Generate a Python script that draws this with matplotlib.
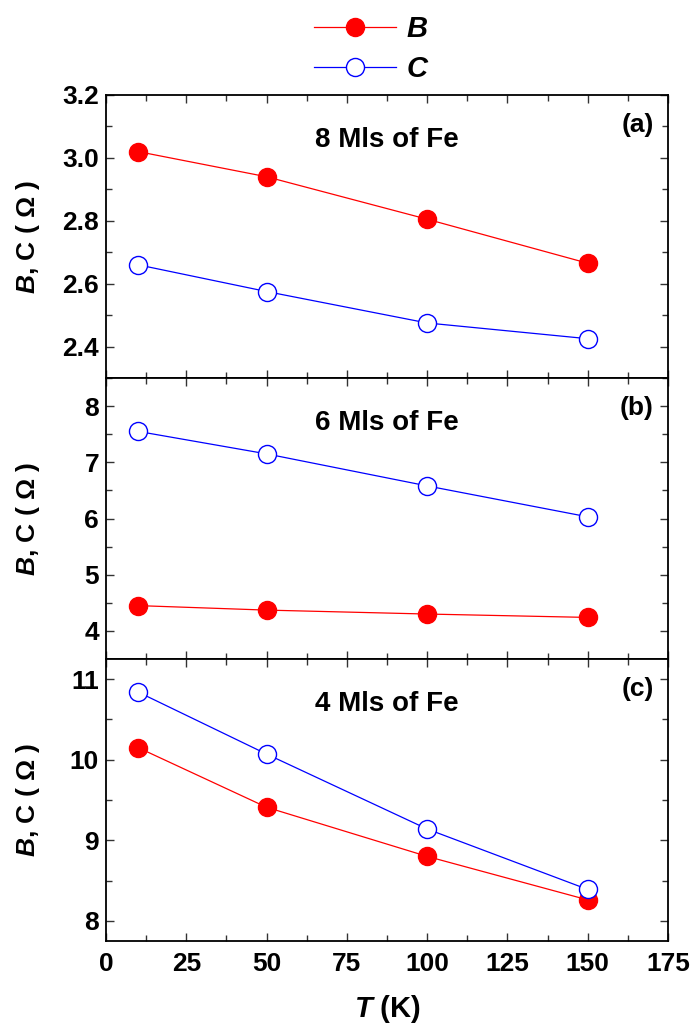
import matplotlib
matplotlib.use("Agg")
import matplotlib.pyplot as plt
from matplotlib.ticker import MultipleLocator, FormatStrFormatter
from matplotlib.lines import Line2D

plt.rcParams['font.family'] = ['Liberation Sans', 'DejaVu Sans']
plt.rcParams['mathtext.fontset'] = 'custom'
plt.rcParams['mathtext.it'] = 'Liberation Sans:italic:bold'
plt.rcParams['mathtext.rm'] = 'Liberation Sans:bold'
plt.rcParams['mathtext.bf'] = 'Liberation Sans:bold'

T = [10, 50, 100, 150]
B_a = [3.02, 2.94, 2.805, 2.665]
C_a = [2.66, 2.575, 2.475, 2.425]
B_b = [4.45, 4.37, 4.30, 4.24]
C_b = [7.55, 7.15, 6.58, 6.03]
B_c = [10.15, 9.41, 8.80, 8.26]
C_c = [10.84, 10.07, 9.14, 8.39]

panel_titles = ['8 Mls of Fe', '6 Mls of Fe', '4 Mls of Fe']
panel_tags = ['(a)', '(b)', '(c)']
ylims = [(2.3, 3.2), (3.5, 8.5), (7.75, 11.25)]
ymajor = [0.2, 1, 1]
yminor = [0.1, 0.5, 0.5]
yfmt = ['%.1f', '%d', '%d']

W, H = 697, 1026
fig = plt.figure(figsize=(W/100, H/100), dpi=100)
left, right = 106/W, 668/W
tops = [95, 378, 659]
bots = [378, 659, 941]
axes = []
data = [(B_a, C_a), (B_b, C_b), (B_c, C_c)]
for i in range(3):
    ax = fig.add_axes([left, 1 - bots[i]/H, right-left, (bots[i]-tops[i])/H])
    axes.append(ax)
    B, C = data[i]
    ax.plot(T, B, '-', color='#ff0000', lw=0.9, marker='o', ms=13,
            mfc='#ff0000', mec='#ff0000', zorder=3)
    ax.plot(T, C, '-', color='#0000ff', lw=0.9, marker='o', ms=13,
            mfc='white', mec='#0000ff', mew=1.0, zorder=4)
    ax.set_xlim(0, 175)
    ax.set_ylim(*ylims[i])
    ax.xaxis.set_major_locator(MultipleLocator(25))
    ax.xaxis.set_minor_locator(MultipleLocator(12.5))
    ax.yaxis.set_major_locator(MultipleLocator(ymajor[i]))
    ax.yaxis.set_minor_locator(MultipleLocator(yminor[i]))
    ax.tick_params(which='both', direction='in', top=True, right=True,
                   width=1.0, color='#333333')
    ax.tick_params(which='major', length=6, labelsize=19, pad=5)
    ax.tick_params(axis='x', which='major', pad=8)
    ax.tick_params(which='minor', length=4)
    for s in ax.spines.values():
        s.set_linewidth(1.3)
    ax.yaxis.set_major_formatter(FormatStrFormatter(yfmt[i]))
    for lab in ax.get_yticklabels() + ax.get_xticklabels():
        lab.set_fontweight('bold')
    if i < 2:
        ax.tick_params(labelbottom=False)
    ax.text(0.5, 0.84, panel_titles[i], transform=ax.transAxes,
            ha='center', va='center', fontsize=20, fontweight='bold')
    ax.text(0.975, 0.895, panel_tags[i], transform=ax.transAxes,
            ha='right', va='center', fontsize=19, fontweight='bold')
    ax.set_ylabel(r'$B$, C ( $\Omega$ )', fontsize=19, fontweight='bold')
    ax.yaxis.set_label_coords(-(106-42)/562, 0.5)

axes[2].set_xlabel(r'$T$ (K)', fontsize=21, fontweight='bold')
axes[2].xaxis.label.set_va('center')
axes[2].xaxis.set_label_coords(0.5, -(1009-941)/282)

handles = [Line2D([], [], color='#ff0000', lw=0.9, marker='o', ms=13,
                  mfc='#ff0000', mec='#ff0000'),
           Line2D([], [], color='#0000ff', lw=0.9, marker='o', ms=13,
                  mfc='white', mec='#0000ff')]
fig.legend(handles, [r'$B$', r'$C$'], loc='center',
           bbox_to_anchor=(372/W, 1 - 49/H), frameon=False, fontsize=21,
           handlelength=2.8, labelspacing=0.4, handletextpad=0.35,
           borderpad=0.0)

fig.savefig('out.png', dpi=100)
